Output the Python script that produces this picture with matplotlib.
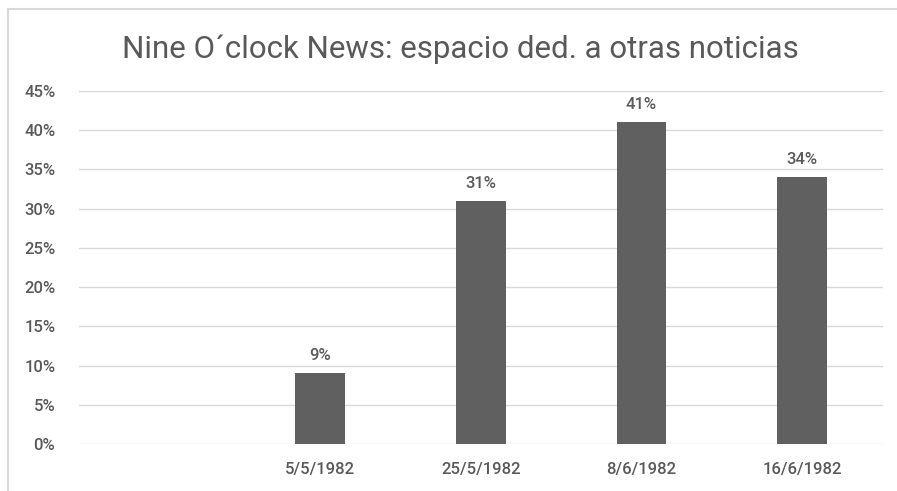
import matplotlib.pyplot as plt
import numpy as np
from matplotlib.ticker import FuncFormatter

# data
categories = ["", "5/5/1982", "25/5/1982", "8/6/1982", "16/6/1982"]
values = [np.nan, 0.09, 0.31, 0.41, 0.34]
bar_labels = ["", "9%", "31%", "41%", "34%"]

plt.rcParams['font.family'] = ['Roboto', 'DejaVu Sans']

fig = plt.figure(figsize=(8.97, 4.91), dpi=100)
ax = fig.add_axes([0.088, 0.0957, 0.896, 0.719])

x = np.arange(len(categories))
bars = ax.bar(x, values, width=0.31, color='#606060', zorder=3)

for xi, v, lab in zip(x, values, bar_labels):
    if lab:
        ax.text(xi, v + 0.013, lab, ha='center', va='bottom',
                fontsize=12, color='#595959', fontweight='medium')

ax.set_xlim(-0.5, len(categories) - 0.5)
ax.set_ylim(0, 0.45)
ax.set_yticks(np.arange(0, 0.451, 0.05))
ax.yaxis.set_major_formatter(FuncFormatter(lambda v, p: f"{v*100:.0f}%"))
ax.set_xticks(x)
ax.set_xticklabels(categories)

ax.grid(axis='y', color='#d9d9d9', linewidth=1, zorder=0)
ax.tick_params(axis='both', length=0, labelsize=12, labelcolor='#595959')
for lab in ax.get_xticklabels() + ax.get_yticklabels():
    lab.set_fontweight('medium')
ax.tick_params(axis='x', pad=13)
ax.tick_params(axis='y', pad=17)
for s in ax.spines.values():
    s.set_visible(False)

fig.text(0.513, 0.9, "Nine O\u00b4clock News: espacio ded. a otras noticias",
         ha='center', va='center', fontsize=22.5, color='#595959')

# chart border (top and left edges are visible in the crop)
fig.add_artist(plt.Line2D([0.009, 1.0], [0.982, 0.982], color='#d9d9d9', lw=1.5,
                          transform=fig.transFigure))
fig.add_artist(plt.Line2D([0.009, 0.009], [0.0, 0.982], color='#d9d9d9', lw=1.5,
                          transform=fig.transFigure))

fig.savefig("out.png", dpi=100)
